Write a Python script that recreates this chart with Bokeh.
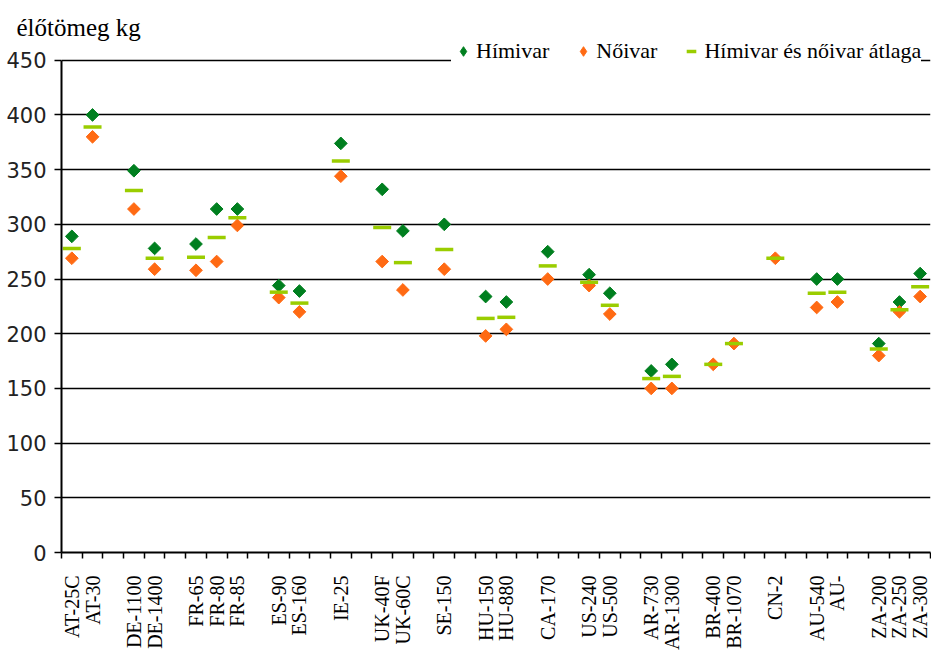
import math
from bokeh.plotting import figure
from bokeh.models import Range1d, FixedTicker, Legend, LegendItem
from bokeh.embed import file_html
from bokeh.resources import INLINE

nan = float("nan")

# x slots ("" = empty gap between countries)
slot_labels = ["AT-25C", "AT-30", "", "DE-1100", "DE-1400", "", "FR-65", "FR-80", "FR-85", "",
               "ES-90", "ES-160", "", "IE-25", "", "UK-40F", "UK-60C", "", "SE-150", "",
               "HU-150", "HU-880", "", "CA-170", "", "US-240", "US-500", "", "AR-730", "AR-1300", "",
               "BR-400", "BR-1070", "", "CN-2", "", "AU-540", "AU-", "", "ZA-200", "ZA-250", "ZA-300"]

# values for the non-empty slots, in order
male = [289, 400, 349, 278, 282, 314, 314, 244, 239, 374, 332, 294, 300, 234, 229,
        275, 254, 237, 166, 172, nan, nan, nan, 250, 250, 191, 229, 255]
female = [269, 380, 314, 259, 258, 266, 299, 233, 220, 344, 266, 240, 259, 198, 204,
          250, 244, 218, 150, 150, 172, 191, 269, 224, 229, 180, 220, 234]
average = [278, 389, 331, 269, 270, 288, 306, 238, 228, 358, 297, 265, 277, 214, 215,
           262, 247, 226, 159, 161, 172, 191, 269, 237, 238, 186, 222, 243]

y_ticks = [0, 50, 100, 150, 200, 250, 300, 350, 400, 450]

series_names = ["Hímivar", "Nőivar", "Hímivar és nőivar átlaga"]
title_text = "élőtömeg kg"

GREEN = "#007f1f"
ORANGE = "#ff6a13"
LIME = "#9acd00"

xs = [i for i, lab in enumerate(slot_labels) if lab]
bounds = [i - 0.5 for i in range(len(slot_labels) + 1)]

# layout (pixels)
W, H = 931, 652
LEFT, RIGHT, TOP, BOTTOM = 61, 1, 34, 95
Y450_PX = 60  # where the 450 line should sit
y_max = y_ticks[-1]
frame_h = H - TOP - BOTTOM
y_end = y_max * frame_h / (H - BOTTOM - Y450_PX)

p = figure(width=W, height=H, output_backend="svg", toolbar_location=None,
           x_range=Range1d(-0.5, len(slot_labels) - 0.5), y_range=Range1d(0, y_end),
           min_border_left=LEFT, min_border_right=RIGHT, min_border_top=TOP, min_border_bottom=BOTTOM)

p.outline_line_color = None
p.background_fill_color = "white"
p.border_fill_color = "white"

p.title.text = title_text
p.title.align = "left"
p.title.offset = -45
p.title.standoff = -12
p.title.text_font = "Liberation Serif"
p.title.text_font_size = "25px"
p.title.text_font_style = "normal"
p.title.text_color = "black"

# y axis
p.yaxis.ticker = FixedTicker(ticks=y_ticks, minor_ticks=[])
p.yaxis.bounds = (0, y_max)
p.yaxis.axis_line_color = "black"
p.yaxis.axis_line_width = 2
p.yaxis.major_tick_line_color = "black"
p.yaxis.major_tick_line_width = 1.5
p.yaxis.major_tick_out = 7
p.yaxis.major_tick_in = 0
p.yaxis.major_label_standoff = 8
p.yaxis.major_label_text_font = "DejaVu Sans"
p.yaxis.major_label_text_font_size = "21px"
p.yaxis.major_label_text_color = "#222222"

# x axis
p.xaxis.ticker = FixedTicker(ticks=xs, minor_ticks=bounds)
p.xaxis.major_label_overrides = {i: slot_labels[i] for i in xs}
p.xaxis.major_label_orientation = math.pi / 2
p.xaxis.axis_line_color = "black"
p.xaxis.axis_line_width = 2
p.xaxis.major_tick_out = 0
p.xaxis.major_tick_in = 0
p.xaxis.minor_tick_out = 6
p.xaxis.minor_tick_in = 0
p.xaxis.minor_tick_line_color = "black"
p.xaxis.minor_tick_line_width = 1.5
p.xaxis.major_label_standoff = 17
p.xaxis.major_label_text_font = "Liberation Serif"
p.xaxis.major_label_text_font_size = "20px"
p.xaxis.major_label_text_color = "black"

p.xgrid.visible = False
p.ygrid.ticker = FixedTicker(ticks=y_ticks, minor_ticks=[])
p.ygrid.grid_line_color = "black"
p.ygrid.grid_line_width = 1.5

r_m = p.scatter(xs, male, marker="square", angle=math.pi / 4, size=9,
                fill_color=GREEN, line_color=GREEN)
r_f = p.scatter(xs, female, marker="square", angle=math.pi / 4, size=9,
                fill_color=ORANGE, line_color=ORANGE)
r_a = p.scatter(xs, average, marker="dash", size=18, line_color=LIME, line_width=3.5)

# legend-only glyphs (legend ignores marker angle, so use diamond shapes there);
# their single point is NaN, so nothing is drawn in the plot itself
lg_m = p.scatter([nan], [nan], marker="diamond", size=15, fill_color=GREEN, line_color=GREEN)
lg_f = p.scatter([nan], [nan], marker="diamond", size=15, fill_color=ORANGE, line_color=ORANGE)

legend = Legend(items=[LegendItem(label=series_names[0], renderers=[lg_m]),
                       LegendItem(label=series_names[1], renderers=[lg_f]),
                       LegendItem(label=series_names[2], renderers=[r_a])],
                orientation="horizontal", location=(390, 488),
                label_text_font="Liberation Serif", label_text_font_size="22px",
                label_text_color="black",
                glyph_width=24, glyph_height=26, label_standoff=1, spacing=22,
                padding=8, margin=0, border_line_color=None,
                background_fill_color="white", background_fill_alpha=1.0)
p.add_layout(legend)

open("out.html", "w").write(file_html(p, INLINE))
